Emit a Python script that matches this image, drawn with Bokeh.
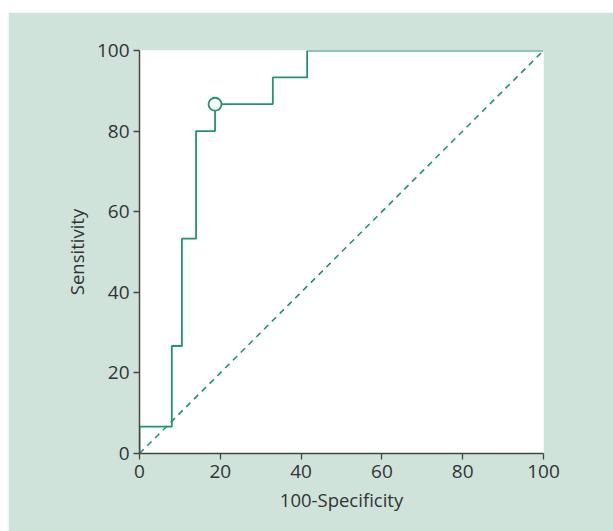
from bokeh.plotting import figure
from bokeh.embed import file_html
from bokeh.resources import INLINE
from bokeh.models import FixedTicker

# ROC curve data (100-Specificity, Sensitivity)
fpr = [0, 0, 8, 8, 10.5, 10.5, 14, 14, 18.7, 18.7, 33, 33, 41.5, 41.5, 100]
tpr = [0, 6.67, 6.67, 26.67, 26.67, 53.3, 53.3, 80, 80, 86.67, 86.67, 93.33, 93.33, 100, 100]
ref_x = [0, 100]
ref_y = [0, 100]
cut_x = [18.7]
cut_y = [86.67]
ticks = [0, 20, 40, 60, 80, 100]

GREEN = "#1f9470"
BG = "#cfe3da"
TXT = "#333333"

p = figure(width=605, height=519, output_backend="svg", toolbar_location=None,
           x_range=(0, 100), y_range=(0, 100),
           min_border_left=131, min_border_right=70, min_border_top=38, min_border_bottom=78)
p.margin = (12, 0, 0, 8)
p.background_fill_color = "white"
p.border_fill_color = BG
p.outline_line_color = None
p.grid.visible = False

p.line(ref_x, ref_y, line_color=GREEN, line_width=1.6, line_dash="6 5")
p.line(fpr, tpr, line_color=GREEN, line_width=1.8)
p.scatter(cut_x, cut_y, size=13, fill_color="white", line_color=GREEN, line_width=1.8)

for ax in (p.xaxis[0], p.yaxis[0]):
    ax.ticker = FixedTicker(ticks=ticks)
    ax.minor_tick_line_color = None
    ax.axis_line_color = "#444444"
    ax.axis_line_width = 1.5
    ax.major_tick_line_color = "#444444"
    ax.major_tick_line_width = 1.3
    ax.major_tick_out = 6
    ax.major_tick_in = 0
    ax.major_label_text_font = "Open Sans"
    ax.major_label_text_font_size = "19px"
    ax.major_label_text_color = TXT
    ax.axis_label_text_font = "Open Sans"
    ax.axis_label_text_font_size = "18.5px"
    ax.axis_label_text_font_style = "normal"
    ax.axis_label_text_color = TXT

p.xaxis.axis_label = "100-Specificity"
p.yaxis.axis_label = "Sensitivity"
p.xaxis.major_label_standoff = 5
p.yaxis.major_label_standoff = 4
p.xaxis.axis_label_standoff = 6
p.yaxis.axis_label_standoff = 5
p.yaxis.major_label_orientation = "horizontal"

open("out.html", "w").write(file_html(p, INLINE))
